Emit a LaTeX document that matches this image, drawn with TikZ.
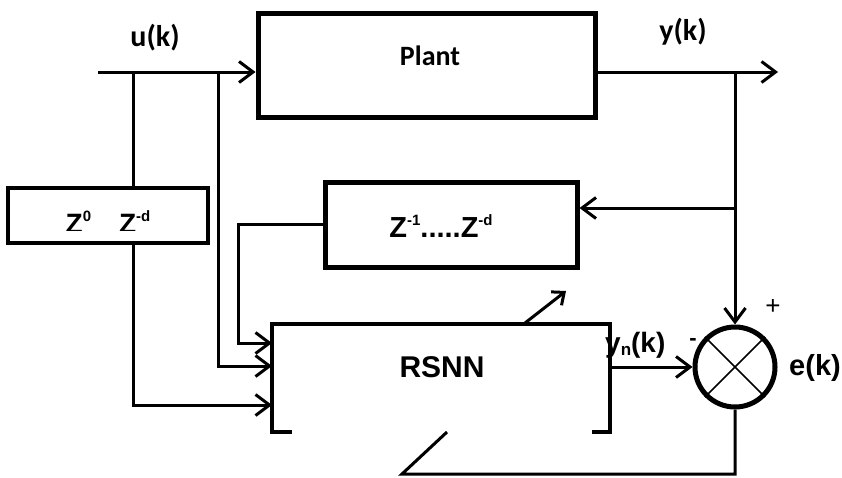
\documentclass[tikz,border=0pt]{standalone}
\usepackage{fontspec}
\setmainfont{Liberation Sans}
\newfontfamily\calib{Carlito}
\usetikzlibrary{arrows.meta}
\newcommand\mysup[1]{\raisebox{0.42em}{\fontsize{15}{15}\selectfont #1}}
\newcommand\mysub[1]{\raisebox{-0.12em}{\fontsize{17}{17}\selectfont #1}}
\begin{document}
\begin{tikzpicture}[x=1pt,y=-1pt,
  wire/.style={line width=3pt},
  arr/.style={wire,-{Straight Barb[length=14pt,width=21pt]}},
  blk/.style={draw,line width=5pt,inner sep=0pt},
  lbl/.style={font=\bfseries\fontsize{28}{30}\selectfont,inner sep=0pt},
  clbl/.style={font=\calib\bfseries\fontsize{30}{32}\selectfont,inner sep=0pt}
]
\useasboundingbox (0,0) rectangle (842,477);

% blocks
\node[blk,minimum width=337pt,minimum height=104pt] (plant) at (426.5,65) {};
\node[lbl,font=\calib\bfseries\fontsize{28}{30}\selectfont] (plantlbl) at (430,56) {Plant};
\node[blk,line width=4.5pt,minimum width=200pt,minimum height=55pt] (zbox) at (108,215.5) {};
\begin{scope}
  \clip (10,190) rectangle (206,230);
  \node[lbl,anchor=base] (zboxlbl) at (108,233) {Z\mysup{0}\hspace{28pt}Z\mysup{-d}};
\end{scope}
\node[blk,minimum width=252pt,minimum height=85pt] (zd) at (451,224.5) {};
\node[lbl,font=\bfseries\fontsize{29}{30}\selectfont] (zdlbl) at (441,226) {Z\mysup{-1}.....Z\mysup{-d}};
\node[inner sep=0pt,minimum width=338pt,minimum height=108pt] (rsnn) at (441,378) {};
\node[lbl,font=\bfseries\fontsize{30}{32}\selectfont] (rsnnlbl) at (442,367) {RSNN};
\node[draw,circle,line width=5pt,minimum size=80pt,inner sep=0pt] (sum) at (735,367) {};
\draw[line width=1.5pt] (sum.north west) -- (sum.south east);
\draw[line width=1.5pt] (sum.north east) -- (sum.south west);

% labels
\node[clbl] (ulbl) at (155,38) {u(k)};
\node[clbl] (ylbl) at (683,32) {y(k)};
\node[lbl,anchor=west] (ynlbl) at (605,345) {y\mysub{n}(k)};
\node[inner sep=0pt,font=\fontsize{26}{26}\selectfont] (plus) at (773,307) {+};
\node[lbl,font=\bfseries\fontsize{22}{22}\selectfont] (minus) at (693,342) {-};
\node[lbl,font=\bfseries\fontsize{29}{30}\selectfont] (elbl) at (815,368) {e(k)};

% RSNN open-bottom box
\draw[line width=4pt] ([xshift=20pt]rsnn.south west) -- (rsnn.south west) -- (rsnn.north west)
  -- (rsnn.north east) -- (rsnn.south east) -- ([xshift=-18pt]rsnn.south east);

% coordinates
\coordinate (uin) at (98,72);
\coordinate (t1) at (133,72);
\coordinate (t2) at (218,72);
\coordinate (ty) at (735,72);
\coordinate (yout) at (778,72);
\coordinate (ybr) at (735,208);
\coordinate (fbc) at (238,224.5);
\coordinate (in1) at (272,343);
\coordinate (in2) at (272,366);
\coordinate (in3) at (272,405);
\coordinate (b1) at (735,474);
\coordinate (b2) at (402,474);
\coordinate (b3) at (447,432);
\coordinate (d1) at (525,323);
\coordinate (d2) at (566,291);

% connectors
\draw[arr] (uin) -- (uin -| plant.west);
\draw[wire] (t1) -- (t1 |- zbox.north);
\draw[arr] (t1 |- zbox.south) |- (in3);
\draw[arr] (t2) |- (in2);
\draw[arr] (zd.west) -| (fbc |- in1) -- (in1);
\draw[arr] (ty -| plant.east) -- (yout);
\draw[arr] (ty) -- (sum.north);
\draw[arr] (ybr) -- (ybr -| zd.east);
\draw[arr] (rsnn.east |- sum.west) -- (sum.west);
\draw[wire] (sum.south) -- (b1) -- (b2) -- (b3);
\draw[wire,-{Straight Barb[length=10pt,width=17pt]}] (d1) -- (d2);
\end{tikzpicture}
\end{document}
